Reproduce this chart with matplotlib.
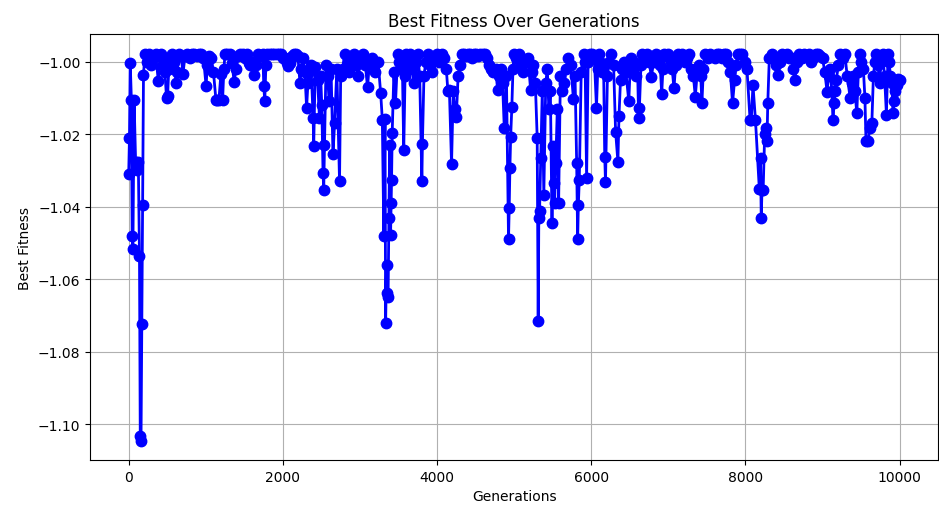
from matplotlib import pyplot as plt

# best fitness per generation in stretches

# start, with the deepest drop
gens_a = [0, 10, 20, 35, 45, 55, 70, 90, 110, 125, 140, 150, 160, 170, 180, 192]
fit_a = [-1.031, -1.021, -1.0004, -1.0106, -1.048, -1.0516, -1.0106, -1.0276,
         -1.030, -1.0276, -1.0537, -1.1031, -1.1045, -1.0724, -1.0395, -1.0038]

gens_b = [210, 235, 260, 290, 320, 350, 385, 405, 420, 445,
          470, 491, 505, 520, 540, 560, 590, 615, 630, 650,
          680, 705, 730, 760, 790, 820, 850, 880, 910, 940,
          970, 1004, 1020, 1040, 1070, 1100, 1132, 1150, 1170, 1197,
          1218, 1235, 1250, 1280, 1310, 1340, 1368, 1395, 1420, 1450,
          1480, 1510, 1540, 1560, 1580, 1600, 1624, 1650, 1680, 1710,
          1740, 1752, 1765, 1780, 1800, 1830, 1860, 1890, 1920, 1950,
          1980, 2005, 2030, 2050, 2073, 2095, 2120, 2145, 2170, 2195]
fit_b = [-0.9978, -1.000, -0.9978, -1.001, -0.999, -0.998, -1.0055, -0.9985, -0.998, -1.001,
         -1.003, -1.010, -1.0096, -1.002, -0.999, -0.9978, -1.000, -1.006, -1.003, -0.998,
         -0.9985, -1.0033, -0.9985, -0.9978, -0.999, -0.998, -0.9978, -0.9985, -0.9978, -0.9978,
         -0.999, -1.0067, -1.001, -0.9985, -0.999, -1.003, -1.0106, -1.0106, -1.0106, -1.0033,
         -1.0106, -1.002, -0.9978, -0.998, -0.998, -1.0005, -1.0056, -1.002, -0.9985, -0.998,
         -0.9978, -0.999, -0.998, -1.0005, -1.001, -1.000, -1.0038, -1.001, -0.998, -0.9985,
         -0.9978, -1.0067, -1.0109, -1.001, -0.9978, -0.9978, -0.9978, -0.998, -0.9978, -0.9978,
         -0.998, -0.999, -0.999, -1.0005, -1.0012, -1.0005, -0.9985, -0.998, -0.998, -0.9985]

gens_c = [2222, 2240, 2260, 2285, 2308, 2325, 2340, 2365, 2393, 2400,
          2420, 2450, 2475, 2490, 2505, 2521, 2530, 2540, 2560, 2580,
          2600, 2625, 2650, 2671, 2700, 2735, 2750, 2775, 2800, 2830,
          2860, 2890, 2920, 2950, 2980, 3010, 3040, 3070, 3098, 3125,
          3150, 3175, 3200, 3235, 3269, 3290]
fit_c = [-1.006, -1.002, -0.999, -1.003, -1.0127, -1.006, -1.003, -1.001, -1.0157, -1.0234,
         -1.0015, -1.005, -1.0157, -1.004, -1.012, -1.0308, -1.0353, -1.023, -1.001, -1.004,
         -1.011, -1.002, -1.0256, -1.017, -1.002, -1.033, -1.004, -1.002, -0.998, -1.001,
         -1.003, -0.999, -0.998, -1.001, -1.004, -0.999, -0.998, -1.001, -1.007, -1.000,
         -0.999, -1.001, -1.003, -1.000, -1.0088, -1.016]

# drop around generation 3300
gens_d = [3310, 3325, 3333, 3345, 3355, 3365, 3376, 3385, 3397, 3405,
          3410, 3418, 3440, 3461, 3490]
fit_d = [-1.048, -1.0158, -1.072, -1.056, -1.0637, -1.065, -1.043, -1.023, -1.0477, -1.039,
         -1.0326, -1.0198, -1.003, -1.0115, -0.998]

gens_e = [3510, 3530, 3550, 3568, 3585, 3600, 3625, 3650, 3675,
          3700, 3725, 3750, 3775, 3803, 3810, 3830, 3855, 3880, 3910,
          3940, 3970, 4000, 4030, 4060, 4090, 4120, 4140, 4160, 4188,
          4210, 4230, 4250, 4273, 4300, 4325, 4350, 4375, 4400, 4425,
          4450, 4475, 4500, 4530, 4560, 4590, 4620, 4650, 4680, 4700,
          4720, 4740, 4760, 4786]
fit_e = [-1.000, -1.002, -1.001, -1.0244, -1.004, -0.998, -1.000, -0.998, -1.002,
         -1.006, -1.000, -0.998, -1.004, -1.033, -1.0228, -1.004, -1.000, -0.998, -1.001,
         -1.003, -0.999, -0.998, -1.000, -0.998, -0.999, -1.002, -1.008, -1.0079, -1.0283,
         -1.008, -1.013, -1.0152, -1.004, -1.001, -0.998, -0.998, -0.9985, -0.998, -0.998,
         -0.999, -0.998, -0.998, -0.9985, -0.998, -0.998, -0.998, -0.999, -1.001, -1.002,
         -1.003, -1.0025, -1.002, -1.0079]

gens_f = [4810, 4830, 4850, 4872, 4900, 4927, 4936, 4945, 4955, 4970,
          4985, 5000, 5030, 5060, 5090, 5120, 5150, 5180, 5214, 5230,
          5250, 5275, 5299, 5312, 5320, 5330, 5345, 5365, 5385, 5410,
          5430, 5450, 5470, 5491, 5505, 5513, 5525, 5540, 5560, 5577,
          5600, 5625, 5650, 5675, 5700, 5735, 5769, 5790, 5811, 5824,
          5833, 5845, 5870, 5900, 5920, 5940, 5960, 5980]
fit_f = [-1.004, -1.002, -1.006, -1.0184, -1.004, -1.0489, -1.0404, -1.0294, -1.0207, -1.0126,
         -1.002, -0.998, -0.999, -0.998, -1.001, -1.003, -1.000, -0.999, -1.0079, -1.003,
         -1.001, -1.006, -1.021, -1.0715, -1.0431, -1.0411, -1.0266, -1.008, -1.0367, -1.006,
         -1.002, -1.013, -1.008, -1.0445, -1.0234, -1.0335, -1.039, -1.028, -1.013, -1.039,
         -1.004, -1.008, -1.006, -1.002, -0.999, -1.001, -1.0104, -1.004, -1.028, -1.0489,
         -1.0395, -1.0326, -1.003, -0.998, -1.000, -1.0321, -1.000, -0.998]

gens_g = [6010, 6040, 6068, 6085, 6100, 6120, 6140, 6160, 6175, 6185,
          6210, 6235, 6260, 6290, 6316, 6346, 6360, 6380, 6400, 6425,
          6450, 6487, 6505, 6520, 6550, 6580, 6600, 6615, 6625, 6645,
          6660, 6690, 6720, 6750, 6780, 6810, 6840, 6870, 6895, 6914,
          6930, 6950, 6975]
fit_g = [-0.998, -0.999, -1.0127, -1.002, -0.998, -1.000, -1.003, -1.001, -1.0262, -1.0332,
         -1.004, -1.000, -0.998, -1.001, -1.0193, -1.0276, -1.015, -1.005, -1.002, -1.000,
         -1.003, -1.0109, -1.002, -0.999, -1.000, -1.004, -1.001, -1.0157, -1.0127, -1.001,
         -0.998, -0.999, -0.998, -1.000, -1.0042, -1.000, -0.998, -0.999, -1.001, -1.009,
         -1.002, -0.998, -0.9985]

gens_h = [7000, 7030, 7050, 7073, 7095, 7120, 7150, 7180, 7210, 7240,
          7270, 7300, 7325, 7350, 7375, 7400, 7420, 7436, 7455, 7480,
          7510, 7540, 7570, 7600, 7630, 7660, 7690, 7720, 7750, 7780,
          7805, 7833, 7860, 7880, 7900, 7930, 7960, 7990]
fit_h = [-0.998, -1.000, -1.002, -1.0074, -1.001, -0.998, -0.9985, -0.998, -1.000, -0.999,
         -0.998, -1.002, -1.004, -1.0097, -1.003, -1.001, -1.004, -1.0113, -1.002, -0.998,
         -0.999, -0.998, -0.9985, -0.999, -0.998, -0.998, -0.999, -0.998, -0.998, -1.000,
         -1.003, -1.0115, -1.005, -1.001, -0.998, -0.998, -0.998, -1.000]

# cluster of drops around generation 8200
gens_i = [8020, 8060, 8076, 8098, 8130, 8180, 8196, 8205, 8215, 8230,
          8250, 8268, 8280, 8290, 8310]
fit_i = [-1.002, -1.016, -1.0161, -1.0065, -1.016, -1.035, -1.0266, -1.043, -1.0355, -1.0355,
         -1.020, -1.0184, -1.0219, -1.0115, -0.999]

gens_j = [8340, 8370, 8395, 8420, 8450, 8480, 8510, 8540, 8570, 8600,
          8620, 8640, 8670, 8700, 8730, 8760, 8790, 8820, 8850, 8880,
          8910, 8940, 8970, 9000, 9030, 9059, 9080, 9100, 9120, 9136,
          9150, 9165, 9180, 9205, 9230, 9260, 9290, 9320, 9359, 9380,
          9400, 9420, 9445, 9465, 9480, 9505, 9530, 9550, 9564, 9590,
          9615, 9640, 9660, 9680, 9700, 9720, 9740, 9760, 9780, 9805,
          9829, 9850, 9865, 9880, 9900, 9914, 9930, 9945, 9960, 9979, 9999]
fit_j = [-0.998, -0.999, -1.001, -1.0038, -1.000, -0.998, -0.9985, -0.998, -0.999, -0.999,
         -1.002, -1.005, -1.000, -0.998, -0.999, -0.998, -0.9985, -0.998, -1.000, -0.999,
         -0.998, -0.998, -0.9985, -0.999, -1.003, -1.0083, -1.004, -1.002, -1.008, -1.0161,
         -1.0115, -1.008, -1.005, -1.001, -0.998, -0.999, -0.998, -1.004, -1.010, -1.006,
         -1.004, -1.008, -1.0143, -1.003, -0.998, -1.000, -1.002, -1.010, -1.0219, -1.0219,
         -1.0184, -1.017, -1.004, -1.000, -0.998, -1.001, -1.006, -1.000, -0.998, -1.004,
         -1.0146, -0.998, -1.000, -1.004, -1.006, -1.0143, -1.0109, -1.008, -1.0065, -1.0049, -1.005]

generations = (gens_a + gens_b + gens_c + gens_d + gens_e + gens_f
               + gens_g + gens_h + gens_i + gens_j)
best_fitness = (fit_a + fit_b + fit_c + fit_d + fit_e + fit_f
                + fit_g + fit_h + fit_i + fit_j)

fig = plt.figure(figsize=(9.39, 5.10), dpi=100)
ax = fig.add_axes([0.096, 0.096, 0.903, 0.835])

ax.plot(generations, best_fitness, marker='o', color='b', linestyle='-',
        linewidth=2, markersize=7.5)
ax.set_title("Best Fitness Over Generations")
ax.set_xlabel("Generations")
ax.set_ylabel("Best Fitness")
ax.grid(True)

fig.savefig("out.png", dpi=100)
